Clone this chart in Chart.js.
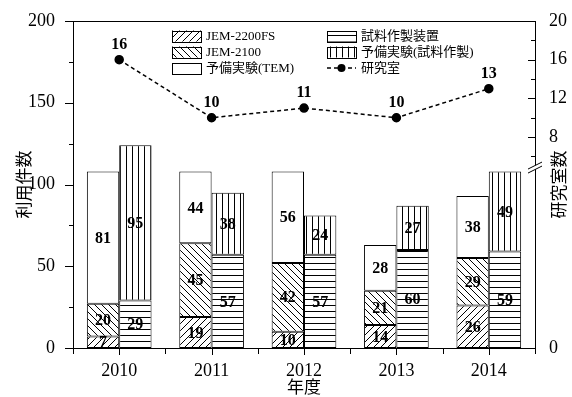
<!DOCTYPE html>
<html>
<head>
<meta charset="utf-8">
<script src="https://cdn.jsdelivr.net/npm/chart.js@4/dist/chart.umd.min.js"></script>
<style>
  html, body { margin: 0; padding: 0; background: #fff; }
  canvas { display: block; }
</style>
</head>
<body>
<canvas id="c" width="572" height="397"></canvas>
<script>
// Fiscal years
const years = ['2010', '2011', '2012', '2013', '2014'];

// Usage counts, TEM stack
const jem2200fs = [7, 19, 10, 14, 26];
const jem2100 = [20, 45, 42, 21, 29];
const prepTem = [81, 44, 56, 28, 38];

// Usage counts, specimen-preparation stack
const specimenPrep = [29, 57, 57, 60, 59];
const prepSpecimen = [95, 38, 24, 27, 49];

// Number of laboratories (right axis)
const labs = [16, 10, 11, 10, 13];

// Axis tick values
const leftTicks = [0, 50, 100, 150, 200];
const rightTicks = [8, 12, 16, 20];
const rightBottomLabel = '0';

// Right axis is broken: the lower part is compressed down to this value
const labAxisMin = -13.8;
const labAxisBreak = 4.8;

const SERIF = '"Liberation Serif", "Times New Roman", "Noto Sans CJK JP", serif';
const JP = '"Noto Sans CJK JP", sans-serif';

const canvas = document.getElementById('c');
const ctx = canvas.getContext('2d');

function makePattern(kind) {
  const s = (kind === 'h' || kind === 'v') ? 6 : 7;
  const c = document.createElement('canvas');
  c.width = s; c.height = s;
  const g = c.getContext('2d');
  g.fillStyle = '#fff';
  g.fillRect(0, 0, s, s);
  g.strokeStyle = '#000';
  g.lineWidth = 1;
  g.beginPath();
  if (kind === 'h') { g.moveTo(0, s - 0.5); g.lineTo(s, s - 0.5); }
  if (kind === 'v') { g.moveTo(0.5, 0); g.lineTo(0.5, s); }
  if (kind === 'fwd') {
    g.moveTo(0, s); g.lineTo(s, 0);
    g.moveTo(-1, 1); g.lineTo(1, -1);
    g.moveTo(s - 1, s + 1); g.lineTo(s + 1, s - 1);
  }
  if (kind === 'back') {
    g.moveTo(0, 0); g.lineTo(s, s);
    g.moveTo(-1, s - 1); g.lineTo(1, s + 1);
    g.moveTo(s - 1, -1); g.lineTo(s + 1, 1);
  }
  g.stroke();
  return ctx.createPattern(c, 'repeat');
}

const fills = {
  fwd: makePattern('fwd'),
  back: makePattern('back'),
  h: makePattern('h'),
  v: makePattern('v'),
  white: '#ffffff'
};

function barSet(label, data, stack, fill) {
  return {
    type: 'bar', label, data, stack, yAxisID: 'y',
    backgroundColor: fill, borderColor: '#000', borderWidth: 1,
    borderSkipped: false, order: 1,
    categoryPercentage: 0.7, barPercentage: 1.0
  };
}

const datasets = [
  barSet('JEM-2200FS', jem2200fs, 'tem', fills.fwd),
  barSet('JEM-2100', jem2100, 'tem', fills.back),
  barSet('予備実験(TEM)', prepTem, 'tem', fills.white),
  barSet('試料作製装置', specimenPrep, 'prep', fills.h),
  barSet('予備実験(試料作製)', prepSpecimen, 'prep', fills.v),
  {
    type: 'line', label: '研究室', data: labs, yAxisID: 'y2', order: 0,
    borderColor: '#000', borderWidth: 1.5, borderDash: [4, 3],
    pointRadius: 4, pointBackgroundColor: '#000', pointBorderColor: '#000',
    fill: false, tension: 0
  }
];

// Legend layout: two columns, three rows
const legendCols = [[0, 1, 2], [3, 4, 5]];

const decorations = {
  id: 'decorations',
  afterDatasetsDraw(chart) {
    const c = chart.ctx;
    c.save();
    c.fillStyle = '#000';
    c.textAlign = 'center';
    c.textBaseline = 'middle';
    c.font = 'bold 16px ' + SERIF;
    chart.data.datasets.forEach((ds, di) => {
      const meta = chart.getDatasetMeta(di);
      meta.data.forEach((el, i) => {
        const v = ds.data[i];
        if (ds.type === 'bar') {
          const p = el.getProps(['x', 'y', 'base'], true);
          c.fillText(String(v), p.x, (p.y + p.base) / 2 + 1);
        } else {
          const p = el.getProps(['x', 'y'], true);
          c.fillText(String(v), p.x, p.y - 15);
        }
      });
    });
    c.restore();
  },
  afterDraw(chart) {
    const c = chart.ctx;
    const ca = chart.chartArea;
    const xs = chart.scales.x, yl = chart.scales.y, yr = chart.scales.y2;
    c.save();
    c.strokeStyle = '#000';
    c.lineWidth = 1;
    const line = (x1, y1, x2, y2) => {
      c.beginPath(); c.moveTo(x1, y1); c.lineTo(x2, y2); c.stroke();
    };
    const px = v => Math.round(v) + 0.5;

    // top frame
    line(ca.left, px(ca.top), ca.right + 0.5, px(ca.top));

    // left axis ticks (outward)
    leftTicks.forEach(v => line(ca.left - 8, px(yl.getPixelForValue(v)), ca.left, px(yl.getPixelForValue(v))));
    for (let i = 0; i < leftTicks.length - 1; i++) {
      const y = px(yl.getPixelForValue((leftTicks[i] + leftTicks[i + 1]) / 2));
      line(ca.left - 4, y, ca.left, y);
    }

    // right axis ticks (inward)
    const rx = ca.right;
    [labAxisMin].concat(rightTicks).forEach(v => {
      const y = px(yr.getPixelForValue(v));
      line(rx - 7, y, rx, y);
    });
    rightTicks.forEach(v => {
      const y = px(yr.getPixelForValue(v - 2));
      line(rx - 4, y, rx, y);
    });

    // bottom axis ticks
    for (let i = 0; i < years.length; i++) {
      const x = px(xs.getPixelForValue(i));
      line(x, ca.bottom, x, ca.bottom + 7);
    }
    for (let i = 0; i <= years.length; i++) {
      const x = px(i === 0 ? ca.left : i === years.length ? ca.right : (xs.getPixelForValue(i - 1) + xs.getPixelForValue(i)) / 2);
      line(x, ca.bottom, x, ca.bottom + 6);
    }

    // axis break marks on the right axis
    const by = yr.getPixelForValue(labAxisBreak);
    c.fillStyle = '#fff';
    c.beginPath();
    c.moveTo(rx - 7, by + 5); c.lineTo(rx + 7, by - 2); c.lineTo(rx + 7, by - 6); c.lineTo(rx - 7, by + 1);
    c.closePath(); c.fill();
    line(rx - 7, by + 5, rx + 7, by - 2);
    line(rx - 7, by + 1, rx + 7, by - 6);

    // right axis title, reading bottom to top
    c.fillStyle = '#000';
    c.font = '17px ' + JP;
    c.textAlign = 'center';
    c.textBaseline = 'middle';
    c.translate(ca.right + 24, (ca.top + ca.bottom) / 2);
    c.rotate(-Math.PI / 2);
    c.fillText('研究室数', 0, 0);
    c.restore();

    // legend
    c.save();
    const colX = [172, 327];
    const rowY = [36, 52, 68];
    const sw = 29, sh = 11;
    c.font = 'normal 13px ' + SERIF;
    c.textBaseline = 'middle';
    c.textAlign = 'left';
    legendCols.forEach((col, ci) => {
      col.forEach((di, ri) => {
        const ds = chart.data.datasets[di];
        const x = colX[ci], y = rowY[ri];
        if (ds.type === 'bar') {
          c.fillStyle = ds.backgroundColor;
          c.fillRect(x, y - sh / 2, sw, sh);
          c.strokeStyle = '#000';
          c.lineWidth = 1;
          c.strokeRect(Math.round(x) + 0.5, Math.round(y - sh / 2) + 0.5, sw, sh);
        } else {
          c.strokeStyle = '#000';
          c.lineWidth = 1.5;
          c.setLineDash([4, 3]);
          c.beginPath(); c.moveTo(x, y); c.lineTo(x + sw, y); c.stroke();
          c.setLineDash([]);
          c.fillStyle = '#000';
          c.beginPath(); c.arc(x + sw / 2, y, 4, 0, Math.PI * 2); c.fill();
        }
        c.fillStyle = '#000';
        c.fillText(ds.label, x + sw + 5, y + 1);
      });
    });
    c.restore();
  }
};

new Chart(ctx, {
  data: { labels: years, datasets },
  options: {
    responsive: false,
    animation: false,
    devicePixelRatio: 1,
    layout: { padding: { top: 21, left: 0, right: 0, bottom: 0 } },
    plugins: { legend: { display: false }, tooltip: { enabled: false } },
    scales: {
      x: {
        type: 'category',
        stacked: true,
        offset: true,
        grid: { display: false },
        border: { display: true, color: '#000', width: 1 },
        ticks: { color: '#000', font: { family: SERIF, size: 18 }, padding: 4 },
        title: { display: true, text: '年度', color: '#000', font: { family: JP, size: 17 }, padding: { top: 0, bottom: 0 } },
        afterFit(scale) { scale.height = 49; }
      },
      y: {
        position: 'left',
        stacked: true,
        min: 0, max: 200,
        grid: { display: false },
        border: { display: true, color: '#000', width: 1 },
        afterBuildTicks(scale) { scale.ticks = leftTicks.map(v => ({ value: v })); },
        ticks: { color: '#000', font: { family: SERIF, size: 18 }, padding: 10 },
        title: { display: true, text: '利用件数', color: '#000', font: { family: JP, size: 17 }, padding: { top: 13, bottom: 0 } },
        afterFit(scale) { scale.width = 73; }
      },
      y2: {
        position: 'right',
        min: labAxisMin, max: 20,
        grid: { display: false },
        border: { display: true, color: '#000', width: 1 },
        afterBuildTicks(scale) { scale.ticks = [labAxisMin].concat(rightTicks).map(v => ({ value: v })); },
        ticks: {
          color: '#000', font: { family: SERIF, size: 18 }, padding: 6,
          callback: v => (v === labAxisMin ? rightBottomLabel : String(v))
        },
        afterFit(scale) { scale.width = 37; }
      }
    }
  },
  plugins: [decorations]
});
</script>
</body>
</html>
